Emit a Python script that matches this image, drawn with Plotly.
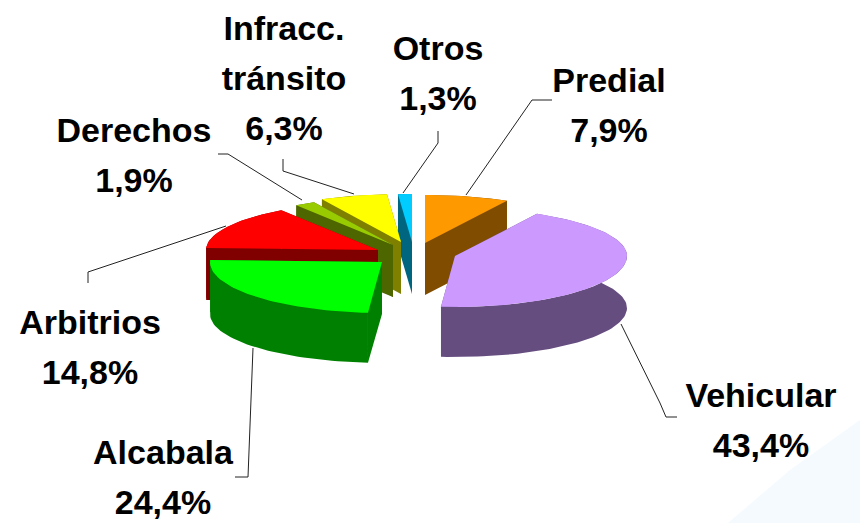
import math
import plotly.graph_objects as go

# --- data ---
categories = ["Predial", "Vehicular", "Alcabala", "Arbitrios", "Derechos", "Infracc.|tránsito", "Otros"]
values = [7.9, 43.4, 24.4, 14.8, 1.9, 6.3, 1.3]

# --- styling / layout ---
top_colors = ["#FF9900", "#CC99FF", "#00FF00", "#FF0000", "#99CC00", "#FFFF00", "#00CCFF"]
wall_colors = ["#804D00", "#664D80", "#008000", "#800000", "#4D6600", "#808000", "#006680"]
exploded_x = [425, 455, 382, 378, 393, 401, 412]
exploded_y = [243, 256, 262, 250, 245, 242, 242]
label_x = [609, 761, 163, 90, 134, 284, 438]
label_y = [83, 398, 455, 325, 133, 31, 51]
leader_x = [[552, 532, 466], [621, 660, 666, 677], [253, 248, 235], [88, 88, 226], [218, 228, 302], [283, 283, 354], [438, 438, 403]]
leader_y = [[100, 100, 195], [324, 403, 417, 417], [348, 477, 477], [283, 272, 226], [154, 154, 200], [159, 171, 194], [131, 143, 193]]
draw_order = [0, 6, 5, 4, 3, 1, 2]
RX, RY_BACK, RY_FRONT = 172, 48, 51
DEPTH = 52
LINE_PITCH = 50

total = sum(values)
bounds = [0]
for v in values:
    bounds.append(bounds[-1] + v / total * 360)


def rim(cx, cy, deg):
    t = math.radians(deg)
    c = math.cos(t)
    return cx + RX * math.sin(t), cy - (RY_BACK if c > 0 else RY_FRONT) * c


def depth_at(deg):
    return DEPTH - 2 * max(0, -math.cos(math.radians(deg)))


fig = go.Figure()


def poly(xs, ys, color):
    fig.add_trace(go.Scatter(x=xs, y=ys, mode="lines", fill="toself", fillcolor=color,
                             line=dict(width=0, color=color), hoverinfo="skip", showlegend=False))


# leader lines
for lx, ly in zip(leader_x, leader_y):
    fig.add_trace(go.Scatter(x=lx, y=ly, mode="lines", line=dict(color="#222222", width=1),
                             hoverinfo="skip", showlegend=False))

for i in draw_order:
    a0, a1 = bounds[i], bounds[i + 1]
    cx, cy = exploded_x[i], exploded_y[i]
    n = max(2, int((a1 - a0) / 2))
    angles = [a0 + (a1 - a0) * k / n for k in range(n + 1)]
    pts = [rim(cx, cy, a) for a in angles]
    # cut faces
    for a, (px, py) in ((a0, pts[0]), (a1, pts[-1])):
        d = depth_at(a)
        poly([cx, px, px, cx, cx], [cy, py, py + d, cy + DEPTH, cy], wall_colors[i])
    # outer wall
    wx = [p[0] for p in pts] + [p[0] for p in reversed(pts)]
    wy = [p[1] for p in pts] + [p[1] + depth_at(a) for p, a in zip(reversed(pts), reversed(angles))]
    poly(wx + wx[:1], wy + wy[:1], wall_colors[i])
    # top
    tx = [cx] + [p[0] for p in pts] + [cx]
    ty = [cy] + [p[1] for p in pts] + [cy]
    poly(tx, ty, top_colors[i])

# labels
for name, v, lx, ly in zip(categories, values, label_x, label_y):
    lines = name.split("|") + [f"{v:.1f}%".replace(".", ",")]
    fig.add_trace(go.Scatter(
        x=[lx] * len(lines), y=[ly + LINE_PITCH * k for k in range(len(lines))],
        mode="text", text=lines, textposition="middle center", cliponaxis=False,
        textfont=dict(family="Liberation Sans", size=34, color="#000000", weight="bold"),
        hoverinfo="skip", showlegend=False))

fig.update_layout(
    width=860, height=523, margin=dict(l=0, r=0, t=0, b=0),
    paper_bgcolor="#FFFFFF", plot_bgcolor="rgba(0,0,0,0)", showlegend=False,
    xaxis=dict(range=[0, 860], visible=False, fixedrange=True),
    yaxis=dict(range=[523, 0], visible=False, fixedrange=True),
    shapes=[dict(type="path", path="M 728,523 L 790,470 L 860,420 L 860,523 Z",
                 fillcolor="#F4FAFD", line=dict(width=0), layer="below")],
)
fig.write_html("out.html", config={"displayModeBar": False},
               post_script="document.body.style.margin='0';document.body.style.overflow='hidden';")
